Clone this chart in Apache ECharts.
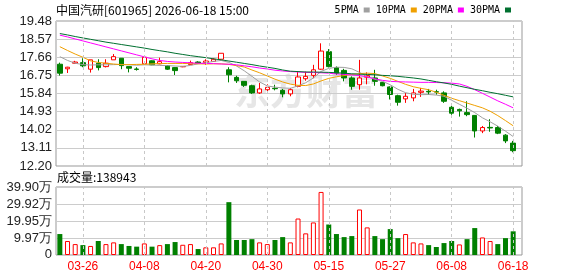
<!DOCTYPE html>
<html>
<head>
<meta charset="utf-8">
<script src="https://cdn.jsdelivr.net/npm/echarts@6/dist/echarts.min.js"></script>
<style>
  html, body { margin: 0; padding: 0; background: #fff; }
  #main { width: 578px; height: 276px; }
</style>
</head>
<body>
<div id="main"></div>
<script>
// 交易日
const dates = ['03-23', '03-24', '03-25', '03-26', '03-27', '03-30', '03-31', '04-01', '04-02', '04-03',
  '04-07', '04-08', '04-09', '04-10', '04-13', '04-14', '04-15', '04-16', '04-17', '04-20',
  '04-21', '04-22', '04-23', '04-24', '04-27', '04-28', '04-29', '04-30', '05-06', '05-07',
  '05-08', '05-11', '05-12', '05-13', '05-14', '05-15', '05-18', '05-19', '05-20', '05-21',
  '05-22', '05-25', '05-26', '05-27', '05-28', '05-29', '06-01', '06-02', '06-03', '06-04',
  '06-05', '06-08', '06-09', '06-10', '06-11', '06-12', '06-15', '06-16', '06-17', '06-18']
const xTickLabels = ['03-26', '04-08', '04-20', '04-30', '05-15', '05-27', '06-08', '06-18']

const opens = [17.31, 17.08, 17.36, 17.39, 17.06, 17.36, 17.19, 17.53, 17.61, 17.19,
  17.07, 17.33, 17.48, 17.33, 17.24, 17.14, 17.18, 17.29, 17.42, 17.39,
  17.45, 17.56, 17.03, 16.65, 16.45, 16.23, 15.87, 16.03, 16.10, 16.00,
  15.82, 16.20, 16.58, 16.75, 17.06, 17.94, 17.14, 17.00, 16.62, 16.28,
  16.66, 16.62, 16.40, 16.17, 15.73, 15.57, 15.62, 15.90, 15.95, 15.93,
  15.87, 15.15, 15.04, 14.88, 14.74, 13.96, 14.14, 14.13, 13.75, 13.35]
const closes = [16.86, 17.16, 17.42, 17.23, 17.53, 17.14, 17.36, 17.69, 17.24, 17.11,
  17.05, 17.66, 17.28, 17.44, 17.06, 16.99, 17.20, 17.39, 17.36, 17.47,
  17.56, 17.86, 16.78, 16.48, 16.25, 15.87, 16.07, 16.15, 16.08, 15.82,
  16.03, 16.67, 16.70, 17.03, 17.97, 17.19, 16.86, 16.62, 16.20, 16.62,
  16.74, 16.45, 16.23, 15.79, 15.40, 15.70, 15.87, 15.96, 15.92, 15.91,
  15.45, 14.85, 14.97, 14.78, 13.96, 14.13, 14.11, 13.85, 13.46, 12.97]
const lows = [16.74, 16.87, 17.33, 17.16, 16.89, 17.00, 17.15, 17.53, 17.06, 16.90,
  16.99, 17.33, 17.26, 17.31, 17.02, 16.77, 17.16, 17.29, 17.32, 17.28,
  17.43, 17.50, 16.40, 16.37, 16.17, 15.82, 15.82, 15.96, 16.00, 15.65,
  15.70, 16.15, 16.48, 16.61, 17.03, 17.15, 16.78, 16.45, 16.03, 16.03,
  16.30, 16.23, 16.20, 15.54, 15.23, 15.37, 15.45, 15.67, 15.77, 15.78,
  15.37, 14.77, 14.68, 14.70, 13.63, 13.85, 13.92, 13.80, 13.35, 12.89]
const highs = [17.39, 17.18, 17.48, 17.61, 17.53, 17.56, 17.56, 17.82, 17.61, 17.20,
  17.16, 17.72, 17.50, 17.64, 17.26, 17.16, 17.22, 17.49, 17.46, 17.56,
  17.61, 17.86, 17.16, 16.73, 16.45, 16.28, 16.37, 16.30, 16.28, 16.07,
  16.12, 16.94, 16.94, 17.28, 18.36, 18.07, 17.20, 17.08, 16.70, 17.53,
  16.90, 17.03, 16.42, 16.20, 15.78, 15.87, 16.07, 16.12, 16.07, 16.03,
  15.95, 15.27, 15.08, 15.45, 14.74, 14.21, 14.55, 14.21, 13.80, 13.46]

const ma5 = [17.69, 17.50, 17.36, 17.29, 17.27, 17.28, 17.28, 17.29, 17.30, 17.28,
  17.26, 17.28, 17.27, 17.25, 17.24, 17.22, 17.20, 17.25, 17.33, 17.38,
  17.45, 17.50, 17.40, 17.22, 16.98, 16.70, 16.42, 16.22, 16.16, 16.12,
  16.10, 16.22, 16.38, 16.62, 16.95, 17.10, 17.16, 17.15, 17.08, 16.90,
  16.70, 16.55, 16.45, 16.28, 16.05, 15.88, 15.80, 15.78, 15.79, 15.76,
  15.70, 15.50, 15.30, 15.10, 14.88, 14.62, 14.42, 14.20, 13.95, 13.68]
const ma10 = [18.19, 18.00, 17.82, 17.66, 17.48, 17.40, 17.36, 17.32, 17.29, 17.29,
  17.30, 17.31, 17.33, 17.34, 17.35, 17.35, 17.35, 17.34, 17.33, 17.32,
  17.33, 17.33, 17.30, 17.24, 17.17, 17.02, 16.88, 16.72, 16.56, 16.42,
  16.31, 16.25, 16.24, 16.32, 16.47, 16.60, 16.68, 16.74, 16.80, 16.84,
  16.86, 16.84, 16.72, 16.60, 16.45, 16.30, 16.18, 16.10, 16.03, 15.90,
  15.75, 15.60, 15.48, 15.36, 15.24, 15.12, 14.95, 14.73, 14.48, 14.22]
const ma20 = [18.77, 18.68, 18.58, 18.48, 18.38, 18.28, 18.18, 18.08, 17.98, 17.88,
  17.78, 17.68, 17.58, 17.50, 17.45, 17.42, 17.40, 17.38, 17.36, 17.35,
  17.34, 17.32, 17.31, 17.28, 17.23, 17.18, 17.12, 17.07, 17.01, 16.97,
  16.94, 16.92, 16.90, 16.89, 16.88, 16.86, 16.82, 16.80, 16.77, 16.74,
  16.67, 16.58, 16.50, 16.45, 16.43, 16.42, 16.41, 16.40, 16.40, 16.39,
  16.38, 16.36, 16.32, 16.20, 16.03, 15.85, 15.66, 15.47, 15.30, 15.12]
const ma30 = [18.85, 18.78, 18.70, 18.63, 18.56, 18.49, 18.42, 18.36, 18.30, 18.24,
  18.18, 18.12, 18.05, 17.99, 17.93, 17.86, 17.80, 17.74, 17.69, 17.64,
  17.58, 17.53, 17.47, 17.41, 17.35, 17.29, 17.22, 17.16, 17.10, 17.02,
  16.96, 16.94, 16.92, 16.92, 16.91, 16.90, 16.88, 16.86, 16.83, 16.81,
  16.80, 16.78, 16.75, 16.73, 16.70, 16.66, 16.62, 16.57, 16.50, 16.43,
  16.37, 16.30, 16.21, 16.13, 16.05, 15.98, 15.90, 15.83, 15.75, 15.67]

const volumes = [123000, 82000, 64000, 58000, 53000, 82000, 64000, 74000, 64000, 53000,
  49000, 68000, 49000, 58000, 64000, 76000, 60000, 64000, 35000, 45000,
  45000, 68000, 310000, 88000, 88000, 93000, 74000, 64000, 88000, 105000,
  74000, 214000, 127000, 191000, 370000, 179000, 123000, 105000, 111000, 267000,
  162000, 111000, 93000, 152000, 99000, 123000, 74000, 68000, 58000, 47000,
  70000, 82000, 62000, 93000, 158000, 103000, 82000, 64000, 99000, 138943]
// 1 = 红(涨), 0 = 绿(跌)
const volUp = [0, 1, 1, 0, 1, 0, 1, 1, 0, 0,
  0, 1, 0, 1, 0, 0, 1, 1, 0, 1,
  1, 1, 0, 0, 0, 0, 1, 1, 0, 0,
  1, 1, 1, 1, 1, 0, 0, 0, 0, 1,
  1, 0, 0, 0, 0, 1, 1, 1, 0, 0,
  0, 0, 1, 0, 0, 1, 1, 0, 0, 0]
const volTickLabels = ['0', '9.97万', '19.95万', '29.92万', '39.90万']
const VOL_MAX = 399000
const VOL_STEP = 99750

const UP = '#ff0000'
const DOWN = '#008000'
const CN_FONT = '"Noto Sans CJK SC", sans-serif'
const NUM_FONT = '"Liberation Sans", Arial, sans-serif'
const LEGEND_FONT = '"DejaVu Sans Mono", monospace'

const kData = dates.map((d, i) => [opens[i], closes[i], lows[i], highs[i]])
const volData = volumes.map((v, i) => ({
  value: v,
  itemStyle: volUp[i]
    ? { color: '#ffffff', borderColor: UP, borderWidth: 1 }
    : { color: DOWN, borderColor: DOWN, borderWidth: 0 },
}))

const dashLines = {
  silent: true,
  symbol: ['none', 'none'],
  label: { show: false },
  lineStyle: { type: [3, 3], color: '#c8c8c8', width: 1 },
  emphasis: { disabled: true },
  data: xTickLabels.map((d) => ({ xAxis: d })),
}

const maLine = (name, data, color) => ({
  name,
  type: 'line',
  xAxisIndex: 1,
  yAxisIndex: 1,
  data,
  symbol: 'none',
  smooth: false,
  lineStyle: { width: 1, color },
  itemStyle: { color },
  z: 3,
})

// 0 这一格 echarts 画不出来, 用一个 title 补上
const volLabel = (v) => {
  const k = Math.round(v / VOL_STEP)
  return k <= 0 ? '' : volTickLabels[k]
}

const plainText = (fontSize, fontFamily, color) => ({ fontSize, fontWeight: 'normal', color, fontFamily })

const chart = echarts.init(document.getElementById('main'))
chart.setOption({
  animation: false,
  backgroundColor: '#fff',
  title: [
    {
      text: '中国汽研[601965] 2026-06-18 15:00',
      left: 56, top: 4, padding: 0,
      textStyle: plainText(12, CN_FONT, '#000'),
    },
    {
      text: '成交量:' + volumes[volumes.length - 1],
      left: 57, top: 171, padding: 0,
      textStyle: plainText(12, CN_FONT, '#000'),
    },
    {
      text: volTickLabels[0],
      right: 526, top: 248, padding: 0,
      textStyle: plainText(13, NUM_FONT, '#222'),
    },
  ],
  legend: {
    right: 67, top: 5, padding: 0,
    itemGap: 6, itemWidth: 6, itemHeight: 5,
    align: 'right', icon: 'rect', selectedMode: false,
    textStyle: { fontSize: 10, color: '#000', fontFamily: LEGEND_FONT },
    data: ['5PMA', '10PMA', '20PMA', '30PMA'],
  },
  graphic: [
    {
      type: 'text', left: 234, top: 73, silent: true, z: 0,
      style: { text: '东方财富', font: 'bold 36px "Noto Sans CJK SC"', fill: '#e6e6e6' },
    },
  ],
  grid: [
    { left: 56, right: 56, top: 21, height: 145, show: true, borderColor: '#999', borderWidth: 1 },
    { left: 56, right: 61, top: 21, height: 145 },
    { left: 56, right: 56, top: 187, height: 68, show: true, borderColor: '#999', borderWidth: 1 },
    { left: 56, right: 61, top: 187, height: 68 },
  ],
  xAxis: [
    { gridIndex: 0, type: 'value', min: 0, max: 1, show: false },
    { gridIndex: 1, type: 'category', data: dates, axisLine: { show: false }, axisTick: { show: false }, axisLabel: { show: false }, splitLine: { show: false } },
    { gridIndex: 2, type: 'value', min: 0, max: 1, show: false },
    {
      gridIndex: 3, type: 'category', data: dates,
      axisLine: { show: false }, axisTick: { show: false }, splitLine: { show: false },
      axisLabel: {
        interval: (i, v) => xTickLabels.includes(v),
        margin: 6, color: '#ff0000', fontSize: 12, fontFamily: NUM_FONT,
      },
    },
  ],
  yAxis: [
    {
      gridIndex: 0, type: 'value', min: 12.2, max: 19.48, interval: 0.91,
      axisLine: { show: false }, axisTick: { show: false },
      axisLabel: { formatter: (v) => v.toFixed(2), color: '#222', fontSize: 13, fontFamily: NUM_FONT, margin: 4, showMinLabel: true, showMaxLabel: true },
      splitLine: { lineStyle: { color: '#cccccc', width: 1 } },
    },
    { gridIndex: 1, type: 'value', min: 12.2, max: 19.48, show: false },
    {
      gridIndex: 2, type: 'value', min: 0, max: VOL_MAX, interval: VOL_STEP,
      axisLine: { show: false }, axisTick: { show: false },
      axisLabel: { formatter: volLabel, color: '#222', fontSize: 13, fontFamily: NUM_FONT, margin: 4 },
      splitLine: { lineStyle: { color: '#cccccc', width: 1 } },
    },
    { gridIndex: 3, type: 'value', min: 0, max: VOL_MAX, show: false },
  ],
  series: [
    {
      name: 'K', type: 'candlestick', xAxisIndex: 1, yAxisIndex: 1,
      data: kData, barWidth: 5,
      itemStyle: { color: '#ffffff', color0: DOWN, borderColor: UP, borderColor0: DOWN, borderWidth: 1 },
      markLine: dashLines,
    },
    maLine('5PMA', ma5, '#a0a0a0'),
    maLine('10PMA', ma10, '#f0a000'),
    maLine('20PMA', ma20, '#ff00ff'),
    maLine('30PMA', ma30, '#007030'),
    {
      name: 'VOL', type: 'bar', xAxisIndex: 3, yAxisIndex: 3,
      data: volData, barWidth: 5,
      markLine: dashLines,
    },
  ],
})
</script>
</body>
</html>
